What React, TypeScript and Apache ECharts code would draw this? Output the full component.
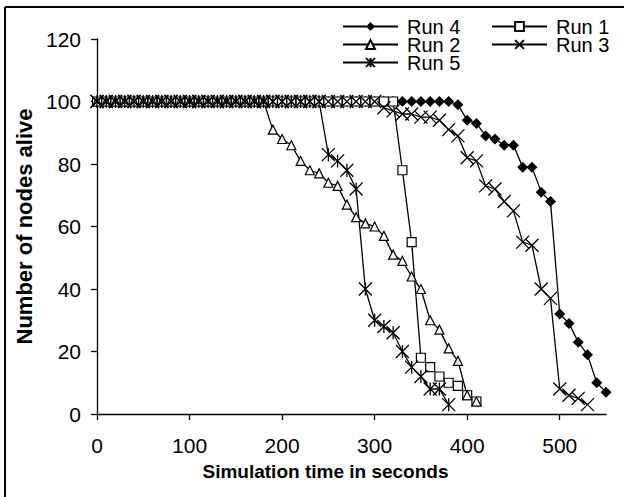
import React, { useEffect, useRef } from "react";
import * as echarts from "echarts";

const times = [0, 10, 20, 30, 40, 50, 60, 70, 80, 90, 100, 110, 120, 130, 140, 150, 160, 170, 180, 190, 200, 210, 220, 230, 240, 250, 260, 270, 280, 290, 300, 310, 320, 330, 340, 350, 360, 370, 380, 390, 400, 410, 420, 430, 440, 450, 460, 470, 480, 490, 500, 510, 520, 530, 540, 550];

const run4 = [100, 100, 100, 100, 100, 100, 100, 100, 100, 100, 100, 100, 100, 100, 100, 100, 100, 100, 100, 100, 100, 100, 100, 100, 100, 100, 100, 100, 100, 100, 100, 100, 100, 100, 100, 100, 100, 100, 100, 99, 94, 93, 89, 88, 86, 86, 79, 79, 71, 68, 32, 29, 23, 19, 10, 7];
const run1 = [100, 100, 100, 100, 100, 100, 100, 100, 100, 100, 100, 100, 100, 100, 100, 100, 100, 100, 100, 100, 100, 100, 100, 100, 100, 100, 100, 100, 100, 100, 100, 100, 100, 78, 55, 18, 15, 12, 10, 9, 6, 4];
const run2 = [100, 100, 100, 100, 100, 100, 100, 100, 100, 100, 100, 100, 100, 100, 100, 100, 100, 100, 100, 91, 88, 86, 81, 78, 77, 74, 73, 67, 63, 61, 60, 57, 51, 49, 44, 40, 30, 27, 21, 17, 6, 4];
const run3 = [100, 100, 100, 100, 100, 100, 100, 100, 100, 100, 100, 100, 100, 100, 100, 100, 100, 100, 100, 100, 100, 100, 100, 100, 100, 100, 100, 100, 100, 100, 100, 98, 97, 96, 96, 95, 95, 94, 91, 89, 82, 81, 73, 72, 68, 65, 55, 54, 40, 37, 8, 6, 5, 3];
const run5 = [100, 100, 100, 100, 100, 100, 100, 100, 100, 100, 100, 100, 100, 100, 100, 100, 100, 100, 100, 100, 100, 100, 100, 100, 100, 83, 81, 78, 72, 40, 30, 28, 26, 20, 15, 12, 8, 8, 3];

const xTickValues = [0, 100, 200, 300, 400, 500];
const seriesNames = ["Run 4", "Run 1", "Run 2", "Run 3", "Run 5"];

const FONT = "'Liberation Sans', Arial, sans-serif";

function pairs(values: number[]) {
  return values.map((v, i) => [times[i], v]);
}

export default function App() {
  const ref = useRef<HTMLDivElement>(null);

  useEffect(() => {
    if (!ref.current) return;
    const chart = echarts.init(ref.current, null, { renderer: "svg" });

    const lineStyle = { color: "#000", width: 1.3 };
    const legendCommon = {
      padding: 0,
      itemWidth: 55,
      itemHeight: 11,
      selectedMode: false,
      textStyle: { fontSize: 20, lineHeight: 17, color: "#000", fontFamily: FONT, padding: [0, 0, 0, 4] },
    };

    chart.setOption({
      animation: false,
      backgroundColor: "#fff",
      textStyle: { fontFamily: FONT },
      grid: { left: 97, right: 18, top: 39, bottom: 83, containLabel: false, outerBoundsMode: "none" },
      legend: [
        { ...legendCommon, data: ["Run 4"], left: 342, top: 16.5 },
        { ...legendCommon, data: ["Run 1"], left: 491, top: 16.5 },
        { ...legendCommon, data: ["Run 2"], left: 342, top: 34.5 },
        { ...legendCommon, data: ["Run 3"], left: 491, top: 34.5 },
        { ...legendCommon, data: ["Run 5"], left: 342, top: 52.5 },
      ],
      xAxis: {
        type: "value",
        min: 0,
        max: 550,
        interval: 100,
        name: "Simulation time in seconds",
        nameLocation: "middle",
        nameGap: 48,
        nameTextStyle: { fontSize: 19, fontWeight: "bold", color: "#000", fontFamily: FONT, padding: [0, 52, 0, 0] },
        axisLine: { show: true, lineStyle: { color: "#000", width: 1.3 } },
        axisTick: { show: true, inside: false, length: 6, customValues: xTickValues, lineStyle: { color: "#000", width: 1.3 } },
        axisLabel: { fontSize: 21, color: "#000", margin: 21, fontFamily: FONT, customValues: xTickValues },
        splitLine: { show: false },
      },
      yAxis: {
        type: "value",
        min: 0,
        max: 120,
        interval: 20,
        name: "Number of nodes alive",
        nameLocation: "middle",
        nameGap: 58,
        nameTextStyle: { fontSize: 22, fontWeight: "bold", color: "#000", fontFamily: FONT },
        axisLine: { show: true, lineStyle: { color: "#000", width: 1.3 } },
        axisTick: { show: true, inside: false, length: 6, lineStyle: { color: "#000", width: 1.3 } },
        axisLabel: { fontSize: 21, color: "#000", margin: 16, fontFamily: FONT },
        splitLine: { show: false },
      },
      graphic: [
        { type: "line", shape: { x1: 5, y1: 7, x2: 624, y2: 7 }, style: { stroke: "#000", lineWidth: 2 } },
        { type: "line", shape: { x1: 5, y1: 7, x2: 5, y2: 497 }, style: { stroke: "#000", lineWidth: 2 } },
      ],
      series: [
        {
          name: seriesNames[0],
          type: "line",
          data: pairs(run4),
          symbol: "diamond",
          symbolSize: 11,
          lineStyle,
          itemStyle: { color: "#000" },
        },
        {
          name: seriesNames[1],
          type: "line",
          data: pairs(run1),
          symbol: "rect",
          symbolSize: 9,
          lineStyle,
          itemStyle: { color: "#fff", borderColor: "#000", borderWidth: 1.2 },
        },
        {
          name: seriesNames[2],
          type: "line",
          data: pairs(run2),
          symbol: "triangle",
          symbolSize: 9,
          lineStyle,
          itemStyle: { color: "#fff", borderColor: "#000", borderWidth: 1.2 },
        },
        {
          name: seriesNames[3],
          type: "line",
          data: pairs(run3),
          symbol: "path://M0,0L10,10M10,0L0,10",
          symbolSize: 13,
          lineStyle,
          itemStyle: { color: "none", borderColor: "#000", borderWidth: 1.3 },
        },
        {
          name: seriesNames[4],
          type: "line",
          data: pairs(run5),
          symbol: "path://M0,0L10,10M10,0L0,10M5,0L5,10",
          symbolSize: 13,
          lineStyle,
          itemStyle: { color: "none", borderColor: "#000", borderWidth: 1.3 },
        },
      ],
    });

    return () => chart.dispose();
  }, []);

  return (
    <div
      ref={ref}
      style={{ position: "absolute", left: 0, top: 0, width: 624, height: 497 }}
    />
  );
}
